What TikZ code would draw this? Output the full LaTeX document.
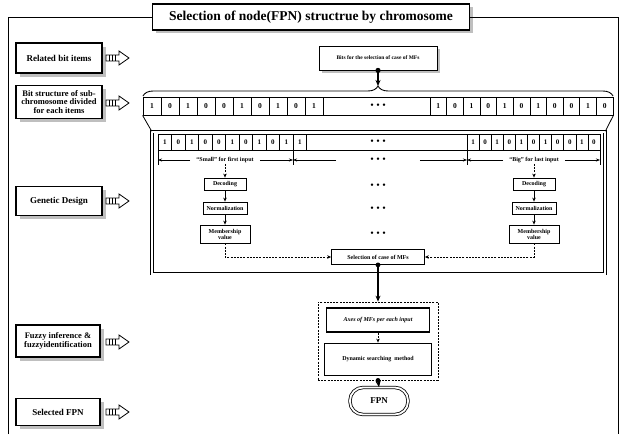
\documentclass[tikz,border=0pt]{standalone}
\usepackage{fontspec}
\setmainfont{Liberation Serif}
\usetikzlibrary{shadows,decorations.pathreplacing,arrows.meta,calc}
\newcommand\fsz[1]{\fontsize{#1}{#1}\selectfont}
\begin{document}
\begin{tikzpicture}[x=1pt,y=-1pt,
  labelbox/.style={draw, line width=1.2pt, fill=white, align=center, inner sep=1pt,
    general shadow={fill=black!25, shadow xshift=3.5pt, shadow yshift=-3.5pt},
    font=\bfseries\fsz{9}},
  smallbox/.style={draw, line width=.8pt, fill=white, align=center, inner sep=1pt, font=\bfseries\fsz{6}},
  cellA/.style={draw, line width=.6pt, inner sep=0, minimum height=18pt, font=\bfseries\fsz{7.5}},
  cellB/.style={draw, line width=.6pt, inner sep=0, minimum height=16pt, font=\bfseries\fsz{7}},
  dots/.style={inner sep=0, font=\fsz{10}},
  tinytext/.style={inner sep=1pt, font=\bfseries\fsz{6}},
  arr/.style={line width=.8pt, -{Stealth[length=4pt,width=3.5pt]}},
  dimarr/.style={line width=.6pt, -{Stealth[length=4pt,width=3pt]}},
  dasharr/.style={line width=.7pt, dashed, dash pattern=on 2pt off 1.2pt, -{Stealth[length=4pt,width=3.5pt]}},
  hollowarrow/.pic={
    \draw[line width=.8pt, fill=white] (0,-3) -- (13,-3) -- (13,-7) -- (23,0) -- (13,7) -- (13,3) -- (0,3) -- cycle;
    \foreach \xx in {3,6,9} \draw[line width=.8pt] (\xx,-3) -- (\xx,3);
  }
]
\useasboundingbox (0,0) rectangle (634,434);

% title and frame
\node[draw, line width=1.2pt, fill=white, minimum width=317pt, minimum height=26pt, inner sep=0,
  general shadow={fill=black!25, shadow xshift=3pt, shadow yshift=-3pt},
  font=\bfseries\fsz{13.5}] (title) at (311,17) {Selection of node(FPN) structrue by chromosome};
\draw[line width=1pt] (8,434) -- (8,17) -- (title.west);
\draw[line width=1pt] (title.east) -- (618,17) -- (618,434);

% left labels
\node[labelbox, minimum width=86pt, minimum height=30pt] (L1) at (59,58) {Related bit items};
\node[labelbox, minimum width=86pt, minimum height=33pt, font=\bfseries\fsz{8.5}] (L2) at (59,102) {Bit structure of sub-\\chromosome divided\\for each items};
\node[labelbox, minimum width=86pt, minimum height=29pt] (L3) at (59,201) {Genetic Design};
\node[labelbox, minimum width=84pt, minimum height=32pt, font=\bfseries\fsz{8.5}] (L4) at (58,341) {Fuzzy inference \&\\fuzzyidentification};
\node[labelbox, minimum width=84pt, minimum height=27pt] (L5) at (58,412) {Selected FPN};
\foreach \yy in {58,103,201,342,412} \pic at (106,\yy) {hollowarrow};

% bits box
\node[smallbox, minimum width=118pt, minimum height=24pt, font=\bfseries\fsz{5.5},
  general shadow={fill=black!25, shadow xshift=2.5pt, shadow yshift=-2.5pt}] (bits) at (378,58) {Bits for the selection of case of MFs};
\draw[decorate, decoration={brace, amplitude=10pt}, line width=.9pt] (143,96) -- (613,96);
\coordinate (bracetip) at (378,86);
\fill (bits.south) circle (2.6pt);
\draw[line width=1.1pt, -{Stealth[length=6pt,width=5pt]}] (bits.south) -- (bracetip);

% row 1
\node[draw, line width=.8pt, minimum width=470pt, minimum height=18pt, inner sep=0] (row1) at (378,106) {};
\foreach \v [count=\i from 0] in {1,0,1,0,0,1,0,1,0,1}
  \node[cellA, minimum width=18pt] (ra\i) at ({152+18*\i},106) {\v};
\foreach \v [count=\i from 0] in {1,0,1,0,1,0,1,0,0,1,0}
  \node[cellA, minimum width=16.636pt] (rb\i) at ({438.318+16.636*\i},106) {\v};
\node[dots] (d1) at (378,106) {\textbullet\ \textbullet\ \textbullet};

% genetic design frame
\node[draw, double, double distance=2pt, line width=.8pt, minimum width=453pt, minimum height=142pt, inner sep=0] (gd) at (378.5,202.5) {};
\draw[line width=.8pt] (row1.south west) -- (gd.north west);
\draw[line width=.8pt] (row1.south east) -- (gd.north east);

% row 2
\node[draw, line width=.8pt, minimum width=442pt, minimum height=16pt, inner sep=0] (row2) at (379,142) {};
\foreach \v [count=\i from 0] in {1,0,1,0,0,1,0,1,0,1,1}
  \node[cellB, minimum width=13.5pt] (rc\i) at ({164.75+13.5*\i},142) {\v};
\foreach \v [count=\i from 0] in {1,0,1,0,1,0,1,0,0,1,0}
  \node[cellB, minimum width=12.09pt] (rd\i) at ({473.045+12.09*\i},142) {\v};
\node[dots] (d2) at (378,142) {\textbullet\ \textbullet\ \textbullet};

% dimension line
\coordinate (t1) at (158,160);
\coordinate (t2) at (293,160);
\coordinate (t3) at (467,160);
\coordinate (t4) at (600,160);
\foreach \t in {t1,t2,t3,t4} \draw[line width=.6pt] ($(\t)+(0,-10)$) -- ($(\t)+(0,5)$);
\node[tinytext, inner xsep=6pt] (smallL) at (225,160) {``Small'' for first input};
\node[tinytext, inner xsep=6pt] (bigL) at (534,160) {``Big'' for last input};
\node[dots, inner xsep=34pt] (d3) at (378,160) {\textbullet\ \textbullet\ \textbullet};
\draw[dimarr] (smallL.west) -- (t1);
\draw[dimarr] (smallL.east) -- (t2);
\draw[dimarr] (d3.west) -- (t2);
\draw[dimarr] (d3.east) -- (t3);
\draw[dimarr] (bigL.west) -- (t3);
\draw[dimarr] (bigL.east) -- (t4);

% columns
\node[smallbox, minimum width=42pt, minimum height=12pt] (decL) at (225,184) {Decoding};
\node[smallbox, minimum width=44pt, minimum height=12pt] (normL) at (225,208) {Normalization};
\node[smallbox, minimum width=50pt, minimum height=18pt] (mvL) at (225,234) {Membership\\value};
\node[smallbox, minimum width=42pt, minimum height=12pt] (decR) at (534,184) {Decoding};
\node[smallbox, minimum width=44pt, minimum height=12pt] (normR) at (534,208) {Normalization};
\node[smallbox, minimum width=50pt, minimum height=18pt] (mvR) at (534,234) {Membership\\value};
\draw[dasharr] (smallL.south) -- (decL.north);
\draw[dasharr] (bigL.south) -- (decR.north);
\draw[arr] (decL) -- (normL);
\draw[arr] (normL) -- (mvL);
\draw[arr] (decR) -- (normR);
\draw[arr] (normR) -- (mvR);
\node[dots] (d4) at (378,186) {\textbullet\ \textbullet\ \textbullet};
\node[dots] (d5) at (378,209) {\textbullet\ \textbullet\ \textbullet};
\node[dots] (d6) at (378,234) {\textbullet\ \textbullet\ \textbullet};

% selection
\node[smallbox, minimum width=93pt, minimum height=15pt] (sel) at (378,257) {Selection of case of MFs};
\draw[dasharr] (mvL.south) |- (sel.west);
\draw[dasharr] (mvR.south) |- (sel.east);

% fuzzy group
\node[draw, line width=.8pt, dashed, dash pattern=on 2pt off 1.2pt, minimum width=120pt, minimum height=78pt, inner sep=0] (grp) at (378,341) {};
\fill (sel.south) circle (2.4pt);
\draw[line width=1.1pt, -{Stealth[length=6pt,width=5pt]}] (sel.south) -- (grp.north);
\node[draw, line width=1.4pt, fill=white, minimum width=103pt, minimum height=24pt, inner sep=0, font=\bfseries\itshape\fsz{6}] (axes) at (378,320) {Axes of MFs per each input};
\node[smallbox, minimum width=107pt, minimum height=32pt] (dyn) at (378,359) {Dynamic searching\ \ method};
\draw[dasharr] (axes.south) -- (dyn.north);
\node[draw, double, double distance=1.8pt, line width=.8pt, rounded corners=13pt, minimum width=58pt, minimum height=27pt, inner sep=0, font=\bfseries\fsz{9}] (fpn) at (379,401) {FPN};
\fill (grp.south) circle (2.4pt);
\draw[line width=1.1pt, -{Stealth[length=6pt,width=5pt]}] (grp.south) -- (fpn.north);
\end{tikzpicture}
\end{document}
